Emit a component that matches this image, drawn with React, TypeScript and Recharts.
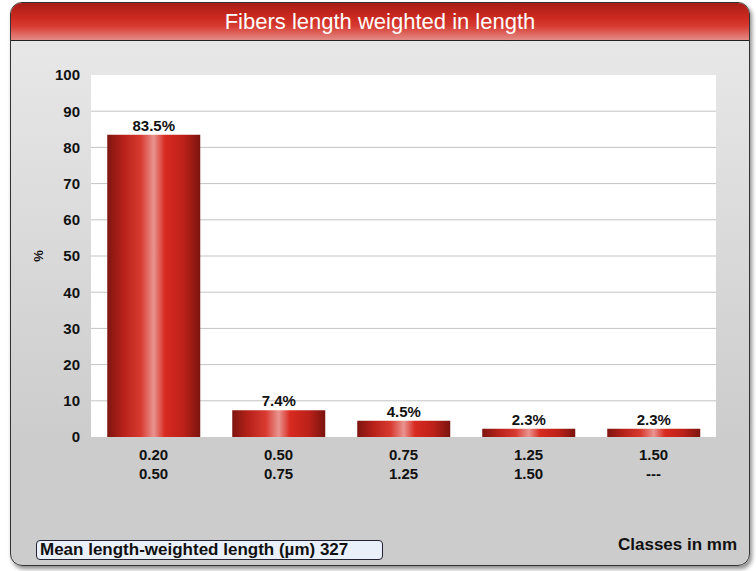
import { BarChart, Bar, XAxis, YAxis, CartesianGrid, LabelList } from 'recharts';

const classLower = ['0.20', '0.50', '0.75', '1.25', '1.50'];
const classUpper = ['0.50', '0.75', '1.25', '1.50', '---'];
const percentValues = [83.5, 7.4, 4.5, 2.3, 2.3];
const yTicks = [0, 10, 20, 30, 40, 50, 60, 70, 80, 90, 100];
const gridValues = [10, 20, 30, 40, 50, 60, 70, 80, 90];

const chartTitle = 'Fibers length weighted in length';
const meanLabel = 'Mean length-weighted length (µm) 327';
const xAxisTitle = 'Classes in mm';
const yAxisTitle = '%';

const data = classLower.map((lower, i) => ({
  name: lower,
  upper: classUpper[i],
  value: percentValues[i]
}));

const FONT = '"Liberation Sans", Arial, sans-serif';

// two-line class label under each bar
const ClassTick = (props: any) => {
  const { x, y, payload } = props;
  const idx = payload.index;
  return (
    <g>
      <text x={x} y={y + 23} textAnchor="middle" fontFamily={FONT} fontWeight="bold" fontSize={15} fill="#111">
        {classLower[idx]}
      </text>
      <text x={x} y={y + 42} textAnchor="middle" fontFamily={FONT} fontWeight="bold" fontSize={15} fill="#111">
        {classUpper[idx]}
      </text>
    </g>
  );
};

const PercentLabel = (props: any) => {
  const { viewBox } = props;
  const cx = 38;
  const cy = viewBox.y + viewBox.height / 2;
  return (
    <text
      x={cx}
      y={cy}
      transform={`rotate(-90 ${cx} ${cy})`}
      textAnchor="middle"
      dominantBaseline="central"
      fontFamily={FONT}
      fontWeight="bold"
      fontSize={13}
      fill="#111"
    >
      {yAxisTitle}
    </text>
  );
};

export default function App() {
  return (
    <div style={{ position: 'absolute', left: 0, top: 0, width: 756, height: 571, background: '#fff', fontFamily: FONT }}>
      {/* frame */}
      <div
        style={{
          position: 'absolute',
          left: 10,
          top: 2,
          width: 738,
          height: 562,
          border: '1px solid #333',
          borderRadius: 12,
          overflow: 'hidden',
          boxShadow: '2px 3px 4px rgba(0,0,0,0.45)',
          background: 'linear-gradient(to bottom, #e9e9e9 0px, #e6e6e6 60px, #cccccc 440px, #cccccc 100%)'
        }}
      >
        <div
          style={{
            height: 37,
            borderBottom: '1px solid #222',
            background: 'linear-gradient(to bottom, #a81c16 0%, #cc2a20 40%, #d63a30 62%, #e48a86 100%)',
            color: '#fff',
            fontSize: 22,
            textAlign: 'center',
            lineHeight: '37px'
          }}
        >
          {chartTitle}
        </div>
      </div>

      <div style={{ position: 'absolute', left: 0, top: 0 }}>
        <BarChart
          width={756}
          height={571}
          data={data}
          margin={{ top: 75, right: 40, bottom: 94, left: 0 }}
          barCategoryGap="13%"
        >
          <defs>
            <linearGradient id="barGrad" x1="0" y1="0" x2="1" y2="0">
              <stop offset="0%" stopColor="#7e1510" />
              <stop offset="18%" stopColor="#b8221a" />
              <stop offset="36%" stopColor="#d83a30" />
              <stop offset="50%" stopColor="#e99490" />
              <stop offset="62%" stopColor="#d82a20" />
              <stop offset="82%" stopColor="#bc2119" />
              <stop offset="100%" stopColor="#7a140f" />
            </linearGradient>
          </defs>
          <CartesianGrid
            vertical={false}
            horizontalValues={gridValues}
            stroke="#c4c4c4"
            fill="#ffffff"
            fillOpacity={1}
          />
          <XAxis
            dataKey="name"
            axisLine={false}
            tickLine={false}
            tickSize={0}
            tickMargin={0}
            height={40}
            interval={0}
            tick={<ClassTick />}
          />
          <YAxis
            domain={[0, 100]}
            ticks={yTicks}
            width={91}
            axisLine={false}
            tickLine={false}
            tickSize={0}
            tickMargin={11}
            tick={{ fontFamily: FONT, fontWeight: 'bold', fontSize: 15, fill: '#111' }}
            label={<PercentLabel />}
          />
          <Bar dataKey="value" fill="url(#barGrad)" isAnimationActive={false}>
            <LabelList
              dataKey="value"
              position="top"
              offset={4}
              formatter={(v: any) => `${v}%`}
              style={{ fontFamily: FONT, fontWeight: 'bold', fontSize: 15, fill: '#111' }}
            />
          </Bar>
        </BarChart>
      </div>

      <div
        style={{
          position: 'absolute',
          left: 36,
          top: 540,
          width: 342,
          height: 18,
          border: '1px solid #223',
          borderRadius: 4,
          background: '#e9f0fa',
          fontSize: 17,
          fontWeight: 'bold',
          lineHeight: '18px',
          paddingLeft: 3,
          color: '#111',
          whiteSpace: 'nowrap'
        }}
      >
        {meanLabel}
      </div>
      <div
        style={{
          position: 'absolute',
          left: 618,
          top: 535,
          fontSize: 17,
          fontWeight: 'bold',
          color: '#111',
          whiteSpace: 'nowrap'
        }}
      >
        {xAxisTitle}
      </div>
    </div>
  );
}
